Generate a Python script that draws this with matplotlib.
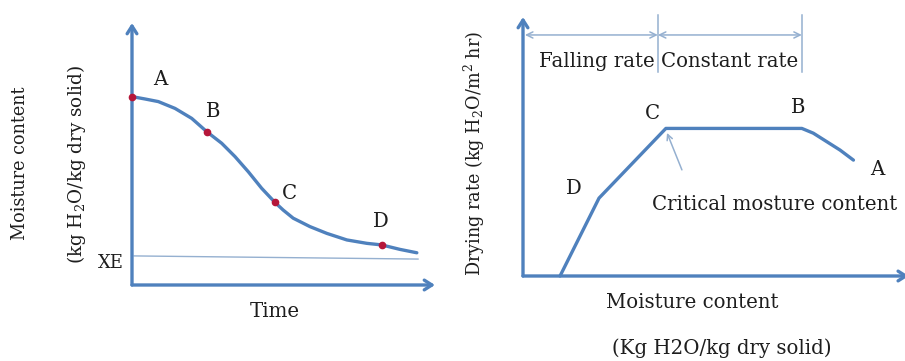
import matplotlib
matplotlib.use("Agg")
import matplotlib.pyplot as plt

# ---------------- data (schematic units 0..10) ----------------
# Left: moisture content vs time
time_pts = [0.0, 0.43, 0.87, 1.42, 1.97, 2.47, 2.96, 3.40, 3.84, 4.28, 4.72,
            4.99, 5.32, 5.87, 6.43, 7.09, 7.75, 8.24, 8.84, 9.40]
moist_pts = [7.19, 7.10, 7.00, 6.74, 6.36, 5.85, 5.41, 4.90, 4.32, 3.69, 3.15,
             2.86, 2.55, 2.23, 1.97, 1.72, 1.59, 1.53, 1.36, 1.23]
left_labels = ["A", "B", "C", "D"]
left_label_idx = [0, 5, 10, 17]
xe_x = [0.07, 9.44]
xe_y = [1.11, 0.99]

# Right: drying rate vs moisture content
mc_pts = [0.97, 1.99, 3.74, 7.30, 7.60, 7.95, 8.30, 8.65]
rate_pts = [0.0, 2.95, 5.59, 5.59, 5.41, 5.09, 4.77, 4.39]
right_labels = ["D", "C", "B", "A"]
bracket_x = [0.05, 3.53, 7.30]
bracket_names = ["Falling rate", "Constant rate"]

# ---------------- style ----------------
BLUE = "#4F81BD"
LIGHT = "#95B0D0"
RED = "#B5173A"
TXT = "#1E1E1E"
plt.rcParams["font.family"] = ["DejaVu Serif"]
plt.rcParams["mathtext.fontset"] = "dejavuserif"
FS = 14.2
FSV = 12.7

W, H = 905, 361
fig = plt.figure(figsize=(W / 100, H / 100), dpi=100)

def ax_px(x0, x1, ytop, ybot):
    return fig.add_axes([x0 / W, (H - ybot) / H, (x1 - x0) / W, (ybot - ytop) / H])

# ---------------- left panel ----------------
axL = ax_px(132, 435, 23, 285)
axL.set_xlim(0, 10)
axL.set_ylim(0, 10)
axL.axis("off")
arrow_kw = dict(arrowstyle="->,head_length=0.55,head_width=0.35", color=BLUE, lw=2.4,
                shrinkA=0, shrinkB=0)
axL.annotate("", xy=(0, 10), xytext=(0, 0), arrowprops=arrow_kw, annotation_clip=False)
axL.annotate("", xy=(10, 0), xytext=(0, 0), arrowprops=arrow_kw, annotation_clip=False)
axL.plot(time_pts, moist_pts, color=BLUE, lw=2.4, solid_capstyle="round",
         solid_joinstyle="round", clip_on=False)
axL.plot(xe_x, xe_y, color=LIGHT, lw=1.0, clip_on=False)
axL.plot([time_pts[i] for i in left_label_idx], [moist_pts[i] for i in left_label_idx],
         "o", color=RED, ms=4.5, clip_on=False, zorder=5)
left_lab_pos = [(0.92, 7.86), (2.67, 6.64), (5.18, 3.51), (8.22, 2.44)]
for lab, (x, y) in zip(left_labels, left_lab_pos):
    axL.text(x, y, lab, fontsize=FS, color=TXT, ha="center", va="center")
axL.text(-0.70, 0.84, "XE", fontsize=13, color=TXT, ha="center", va="center")
axL.text(4.72, -1.03, "Time", fontsize=FS, color=TXT, ha="center", va="center")
axL.text(-3.70, 4.66, "Moisture content", fontsize=FSV, color=TXT, rotation=90,
         ha="center", va="center")
axL.text(-1.82, 4.62, r"(kg H$_2$O/kg dry solid)", fontsize=13.2, color=TXT, rotation=90,
         ha="center", va="center")

# ---------------- right panel ----------------
axR = ax_px(523, 905, 12, 276)
axR.set_xlim(0, 10)
axR.set_ylim(0, 10)
axR.axis("off")
axR.annotate("", xy=(0, 9.81), xytext=(0, 0), arrowprops=arrow_kw, annotation_clip=False)
axR.annotate("", xy=(10.1, 0), xytext=(0, 0), arrowprops=arrow_kw, annotation_clip=False)
axR.plot(mc_pts, rate_pts, color=BLUE, lw=2.4, solid_joinstyle="round",
         solid_capstyle="round", clip_on=False)

br_kw = dict(arrowstyle="<->,head_length=0.45,head_width=0.22", color=LIGHT, lw=1.1,
             shrinkA=0, shrinkB=0)
axR.annotate("", xy=(bracket_x[1], 9.13), xytext=(bracket_x[0], 9.13), arrowprops=br_kw)
axR.annotate("", xy=(bracket_x[2], 9.13), xytext=(bracket_x[1], 9.13), arrowprops=br_kw)
for bx in bracket_x[1:]:
    axR.plot([bx, bx], [9.89, 7.73], color=LIGHT, lw=1.1, clip_on=False)
axR.text(1.94, 8.11, bracket_names[0], fontsize=FS, color=TXT, ha="center", va="center")
axR.text(5.42, 8.11, bracket_names[1], fontsize=FS, color=TXT, ha="center", va="center")

right_lab_pos = [(1.34, 3.30), (3.38, 6.17), (7.20, 6.40), (9.27, 4.02)]
for lab, (x, y) in zip(right_labels, right_lab_pos):
    axR.text(x, y, lab, fontsize=FS, color=TXT, ha="center", va="center")

axR.annotate("", xy=(3.77, 5.42), xytext=(4.16, 4.02),
             arrowprops=dict(arrowstyle="->,head_length=0.4,head_width=0.2", color=LIGHT,
                             lw=1.1, shrinkA=0, shrinkB=0))
axR.text(6.60, 2.69, "Critical mosture content", fontsize=FS, color=TXT,
         ha="center", va="center")
axR.text(4.42, -1.02, "Moisture content", fontsize=FS, color=TXT, ha="center", va="center")
axR.text(5.21, -2.73, "(Kg H2O/kg dry solid)", fontsize=FS, color=TXT,
         ha="center", va="center")
axR.text(-1.26, 4.66, r"Drying rate (kg H$_2$O/m$^2$ hr)", fontsize=FSV, color=TXT,
         rotation=90, ha="center", va="center")

fig.savefig("out.png", dpi=100)
